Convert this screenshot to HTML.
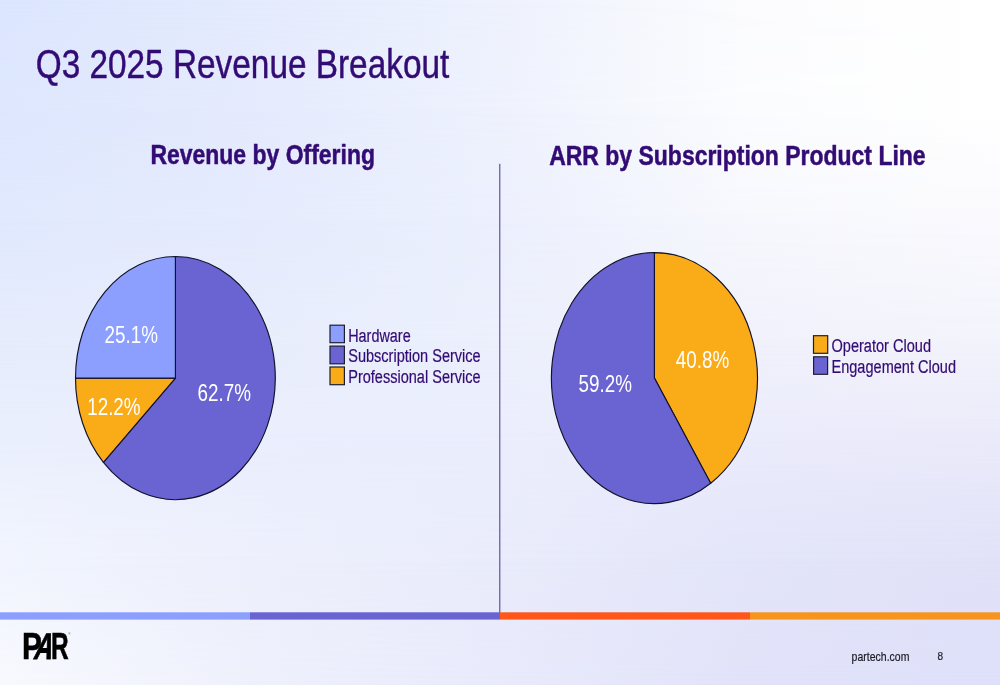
<!DOCTYPE html>
<html lang="en">
<head>
<meta charset="utf-8">
<title>Q3 2025 Revenue Breakout</title>
<style>
html,body{margin:0;padding:0;background:#fff;}
body{width:1000px;height:685px;overflow:hidden;position:relative;font-family:"Liberation Sans",sans-serif;}
.bg{position:absolute;left:0;top:0;width:1000px;height:685px;}
.r0{background:linear-gradient(to right,#DCE6FE 0%,#E4EBFD 25%,#EEF2FD 50%,#FCFCFE 75%,#FFFFFF 100%);}
.r1{background:linear-gradient(to right,#DEE7FE 0%,#E5EAFD 25%,#EEF2FD 50%,#FBFCFE 75%,#FFFFFF 100%);-webkit-mask-image:linear-gradient(to bottom,rgba(0,0,0,0) 0px,rgba(0,0,0,0) 0px,#000 110px,#000 685px);mask-image:linear-gradient(to bottom,rgba(0,0,0,0) 0px,rgba(0,0,0,0) 0px,#000 110px,#000 685px);}
.r2{background:linear-gradient(to right,#E1E9FE 0%,#E5EBFD 25%,#ECF0FD 50%,#F7F8FD 75%,#FAFAFE 100%);-webkit-mask-image:linear-gradient(to bottom,rgba(0,0,0,0) 0px,rgba(0,0,0,0) 110px,#000 220px,#000 685px);mask-image:linear-gradient(to bottom,rgba(0,0,0,0) 0px,rgba(0,0,0,0) 110px,#000 220px,#000 685px);}
.r3{background:linear-gradient(to right,#E6ECFC 0%,#E8EDFC 25%,#ECF0FC 50%,#F0F1FB 75%,#F3F3FC 100%);-webkit-mask-image:linear-gradient(to bottom,rgba(0,0,0,0) 0px,rgba(0,0,0,0) 220px,#000 343px,#000 685px);mask-image:linear-gradient(to bottom,rgba(0,0,0,0) 0px,rgba(0,0,0,0) 220px,#000 343px,#000 685px);}
.r4{background:linear-gradient(to right,#EAEFFD 0%,#EAEEFD 25%,#EBEEFD 50%,#EBECFC 75%,#EBEBFA 100%);-webkit-mask-image:linear-gradient(to bottom,rgba(0,0,0,0) 0px,rgba(0,0,0,0) 343px,#000 430px,#000 685px);mask-image:linear-gradient(to bottom,rgba(0,0,0,0) 0px,rgba(0,0,0,0) 343px,#000 430px,#000 685px);}
.r5{background:linear-gradient(to right,#F1F5FE 0%,#EDF0FC 25%,#E9ECFB 50%,#E3E5F9 75%,#E1E2F8 100%);-webkit-mask-image:linear-gradient(to bottom,rgba(0,0,0,0) 0px,rgba(0,0,0,0) 430px,#000 560px,#000 685px);mask-image:linear-gradient(to bottom,rgba(0,0,0,0) 0px,rgba(0,0,0,0) 430px,#000 560px,#000 685px);}
.r6{background:linear-gradient(to right,#F8F9FE 0%,#EEF0FC 25%,#E8EAFB 50%,#E1E2F9 75%,#DEE0FA 100%);-webkit-mask-image:linear-gradient(to bottom,rgba(0,0,0,0) 0px,rgba(0,0,0,0) 560px,#000 685px,#000 685px);mask-image:linear-gradient(to bottom,rgba(0,0,0,0) 0px,rgba(0,0,0,0) 560px,#000 685px,#000 685px);}
#logo{position:absolute;left:0;top:0;font-family:"Liberation Sans",sans-serif;font-weight:bold;font-size:36.8px;line-height:1;color:#000;}
#logo span{position:absolute;top:629.3px;display:block;transform-origin:0 29.15px;-webkit-text-stroke:0.6px #000;}
#logo .lp{left:21.7px;transform:scale(0.81,1);}
#logo .la{left:33.0px;transform:skewX(-14.5deg) scale(0.69,1);-webkit-text-stroke:1px #000;}
#logo .lr{left:51.2px;transform:scale(0.665,1);}
#logo .reg{left:68.2px;top:632.6px;font-size:3.2px;font-weight:normal;-webkit-text-stroke:0;color:#555;transform:none;}
svg{position:absolute;left:0;top:0;}
text{font-family:"Liberation Sans",sans-serif;}
.t{fill:#330B74;}
.w{fill:#FFFFFF;}
</style>
</head>
<body>
<div class="bg r0"></div>
<div class="bg r1"></div>
<div class="bg r2"></div>
<div class="bg r3"></div>
<div class="bg r4"></div>
<div class="bg r5"></div>
<div class="bg r6"></div>
<svg width="1000" height="685" viewBox="0 0 1000 685">
  <!-- divider -->
  <rect x="499.1" y="163.8" width="1.3" height="449" fill="#6F5CAB"/>
  <!-- colour bar -->
  <rect x="0" y="612.3" width="250" height="7.3" fill="#8C9FFF"/>
  <rect x="250" y="612.3" width="250" height="7.3" fill="#6864D2"/>
  <rect x="500" y="612.3" width="250" height="7.3" fill="#FF561A"/>
  <rect x="750" y="612.3" width="250" height="7.3" fill="#F7941D"/>

  <!-- title -->
  <text id="title" class="t" stroke="#330B74" stroke-width="0.45" x="35.7" y="77.7" font-size="41.5" textLength="413.6" lengthAdjust="spacingAndGlyphs">Q3 2025 Revenue Breakout</text>
  <text id="h1" class="t" stroke="#330B74" stroke-width="0.5" x="150.4" y="164.4" font-size="27.3" font-weight="bold" textLength="224.6" lengthAdjust="spacingAndGlyphs">Revenue by Offering</text>
  <text id="h2" class="t" stroke="#330B74" stroke-width="0.5" x="549.2" y="164.6" font-size="27.3" font-weight="bold" textLength="376.4" lengthAdjust="spacingAndGlyphs">ARR by Subscription Product Line</text>

  <!-- left pie -->
  <g stroke="#12122A" stroke-width="1.15" stroke-linejoin="round">
    <path d="M175.40,378.05 L175.40,256.45 A99.9,121.6 0 1 1 103.42,462.37 Z" fill="#6964D2"/>
    <path d="M175.40,378.05 L103.42,462.37 A99.9,121.6 0 0 1 75.50,378.05 Z" fill="#FAAB18"/>
    <path d="M175.40,378.05 L75.50,378.05 A99.9,121.6 0 0 1 175.40,256.45 Z" fill="#8C9FFF"/>
  </g>
  <text id="p1" class="w" x="131.3" y="343.1" font-size="24.1" text-anchor="middle" textLength="53.4" lengthAdjust="spacingAndGlyphs">25.1%</text>
  <text id="p2" class="w" x="113.9" y="415.1" font-size="24.1" text-anchor="middle" textLength="53.4" lengthAdjust="spacingAndGlyphs">12.2%</text>
  <text id="p3" class="w" x="224.3" y="400.5" font-size="24.1" text-anchor="middle" textLength="53.4" lengthAdjust="spacingAndGlyphs">62.7%</text>

  <!-- left legend -->
  <g stroke="#1E1E30" stroke-width="1.2">
    <rect x="330.0" y="325.2" width="14.4" height="17.5" fill="#8C9FFF"/>
    <rect x="330.0" y="346.1" width="14.4" height="17.7" fill="#6964D2"/>
    <rect x="330.0" y="367.0" width="14.4" height="17.7" fill="#FAAB18"/>
  </g>
  <text id="l1" class="t" x="348.2" y="341.8" font-size="17.6" textLength="62.5" lengthAdjust="spacingAndGlyphs" stroke="#330B74" stroke-width="0.2">Hardware</text>
  <text id="l2" class="t" x="348.2" y="362.3" font-size="17.6" textLength="132.5" lengthAdjust="spacingAndGlyphs" stroke="#330B74" stroke-width="0.2">Subscription Service</text>
  <text id="l3" class="t" x="348.2" y="383.1" font-size="17.6" textLength="132.5" lengthAdjust="spacingAndGlyphs" stroke="#330B74" stroke-width="0.2">Professional Service</text>

  <!-- right pie -->
  <g stroke="#12122A" stroke-width="1.15" stroke-linejoin="round">
    <path d="M654.40,378.10 L654.40,252.55 A103,125.55 0 0 1 710.68,483.25 Z" fill="#FAAB18"/>
    <path d="M654.40,378.10 L710.68,483.25 A103,125.55 0 1 1 654.40,252.55 Z" fill="#6964D2"/>
  </g>
  <text id="p4" class="w" x="702.5" y="368" font-size="24.1" text-anchor="middle" textLength="53.4" lengthAdjust="spacingAndGlyphs">40.8%</text>
  <text id="p5" class="w" x="605.3" y="392.1" font-size="24.1" text-anchor="middle" textLength="53.4" lengthAdjust="spacingAndGlyphs">59.2%</text>

  <!-- right legend -->
  <g stroke="#1E1E30" stroke-width="1.2">
    <rect x="813.5" y="335.7" width="14.2" height="17.6" fill="#FAAB18"/>
    <rect x="813.6" y="356.8" width="14" height="17.5" fill="#6964D2"/>
  </g>
  <text id="l4" class="t" x="831.5" y="351.9" font-size="17.6" textLength="99.5" lengthAdjust="spacingAndGlyphs" stroke="#330B74" stroke-width="0.2">Operator Cloud</text>
  <text id="l5" class="t" x="831.5" y="372.7" font-size="17.6" textLength="124.5" lengthAdjust="spacingAndGlyphs" stroke="#330B74" stroke-width="0.2">Engagement Cloud</text>

  <!-- footer -->
  <text id="f1" x="851.6" y="660.5" font-size="12.6" fill="#1C1C24" stroke="#1C1C24" stroke-width="0.2" textLength="57.8" lengthAdjust="spacingAndGlyphs">partech.com</text>
  <text id="f2" x="937.5" y="660.1" font-size="11.6" fill="#1C1C24" stroke="#1C1C24" stroke-width="0.2" textLength="5.6" lengthAdjust="spacingAndGlyphs">8</text>
</svg>
<div id="logo"><span class="lp">P</span><span class="la">A</span><span class="lr">R</span><span class="reg">®</span></div>
</body>
</html>
